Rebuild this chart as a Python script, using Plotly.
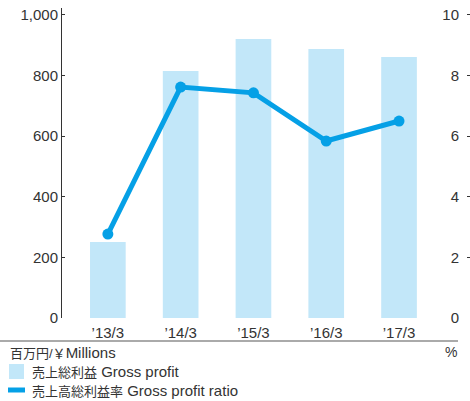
import plotly.graph_objects as go

categories = ["’13/3", "’14/3", "’15/3", "’16/3", "’17/3"]
gross_profit = [251, 815, 921, 888, 861]
gross_profit_ratio = [2.77, 7.62, 7.43, 5.84, 6.5]
left_ticks = [0, 200, 400, 600, 800, 1000]
left_tick_labels = ["0", "200", "400", "600", "800", "1,000"]
right_ticks = [0, 2, 4, 6, 8, 10]
legend_jp = ["売上総利益", "売上高総利益率"]
legend_en = ["Gross profit", "Gross profit ratio"]

FONT = "Helvetica, Arial, 'Liberation Sans', 'Noto Sans CJK JP', sans-serif"
BAR_COLOR = "#c2e7f9"
LINE_COLOR = "#05a0e6"
TXT = "#333333"

W, H = 470, 401
L, R, T, B = 62, 4, 8, 83
PW, PH = W - L - R, H - T - B


def px(x):
    return (x - L) / PW


def py(y):
    return (H - B - y) / PH


def mixed(jp, en):
    return (f"<span style='font-size:13px'>{jp}</span>"
            f"<span style='font-size:15px'> {en}</span>")


fig = go.Figure()
fig.add_trace(go.Bar(
    x=list(range(len(categories))), y=gross_profit, name=legend_en[0],
    marker=dict(color=BAR_COLOR, line=dict(width=0)), width=0.49, yaxis="y",
))
fig.add_trace(go.Scatter(
    x=list(range(len(categories))), y=gross_profit_ratio, name=legend_en[1],
    mode="lines+markers", line=dict(color=LINE_COLOR, width=5),
    marker=dict(color=LINE_COLOR, size=11), yaxis="y2",
))

fig.update_layout(
    width=W, height=H,
    margin=dict(l=L, r=R, t=T, b=B, autoexpand=False),
    paper_bgcolor="white", plot_bgcolor="white",
    font=dict(family=FONT, size=15, color=TXT),
    showlegend=False,
    xaxis=dict(
        range=[-0.63, 4.92], tickmode="array",
        tickvals=list(range(len(categories))), ticktext=categories,
        showgrid=False, zeroline=False, showline=False, ticks="",
        tickangle=0, tickfont=dict(size=15, color=TXT), automargin=False,
        ticklabelstandoff=4,
    ),
    yaxis=dict(
        range=[0, 1023], tickmode="array", tickvals=left_ticks, ticktext=left_tick_labels,
        showgrid=False, zeroline=False, showline=True, linecolor="#333333", linewidth=1,
        ticks="inside", ticklen=3, tickcolor="#333333", tickfont=dict(size=15, color=TXT),
        automargin=False,
    ),
    yaxis2=dict(
        range=[0, 10.23], overlaying="y", side="left", anchor="free", position=1.0,
        tickmode="array", tickvals=right_ticks,
        showgrid=False, zeroline=False, showline=False,
        ticks="inside", ticklen=3, tickcolor="#333333",
        tickfont=dict(size=15, color=TXT), automargin=False,
        ticklabelstandoff=7,
    ),
)

# bottom separator line
fig.add_shape(type="line", xref="paper", yref="paper", x0=px(0), x1=px(458),
              y0=py(341), y1=py(341), line=dict(color="#aaaaaa", width=2))
fig.add_annotation(text=mixed("百万円/￥", "Millions").replace("> ", ">"),
                   xref="paper", yref="paper",
                   x=px(8), y=py(352), xanchor="left", yanchor="middle",
                   showarrow=False, font=dict(size=14, color=TXT))
fig.add_annotation(text="%", xref="paper", yref="paper",
                   x=px(459), y=py(352), xanchor="right", yanchor="middle",
                   showarrow=False, font=dict(size=14, color=TXT))

# legend (drawn manually)
fig.add_shape(type="rect", xref="paper", yref="paper", x0=px(9), x1=px(24),
              y0=py(364), y1=py(379), fillcolor=BAR_COLOR, line=dict(width=0))
fig.add_annotation(text=mixed(legend_jp[0], legend_en[0]), xref="paper", yref="paper",
                   x=px(30), y=py(371), xanchor="left", yanchor="middle",
                   showarrow=False, font=dict(size=14, color=TXT))
fig.add_shape(type="line", xref="paper", yref="paper", x0=px(8), x1=px(25),
              y0=py(390), y1=py(390), line=dict(color=LINE_COLOR, width=5))
fig.add_annotation(text=mixed(legend_jp[1], legend_en[1]), xref="paper", yref="paper",
                   x=px(30), y=py(390), xanchor="left", yanchor="middle",
                   showarrow=False, font=dict(size=14, color=TXT))

fig.write_html("out.html", config={"displayModeBar": False})
with open("out.html", encoding="utf-8") as f:
    html = f.read()
html = html.replace("<head>", "<head><style>html,body{margin:0;padding:0;overflow:hidden}</style>", 1)
with open("out.html", "w", encoding="utf-8") as f:
    f.write(html)
